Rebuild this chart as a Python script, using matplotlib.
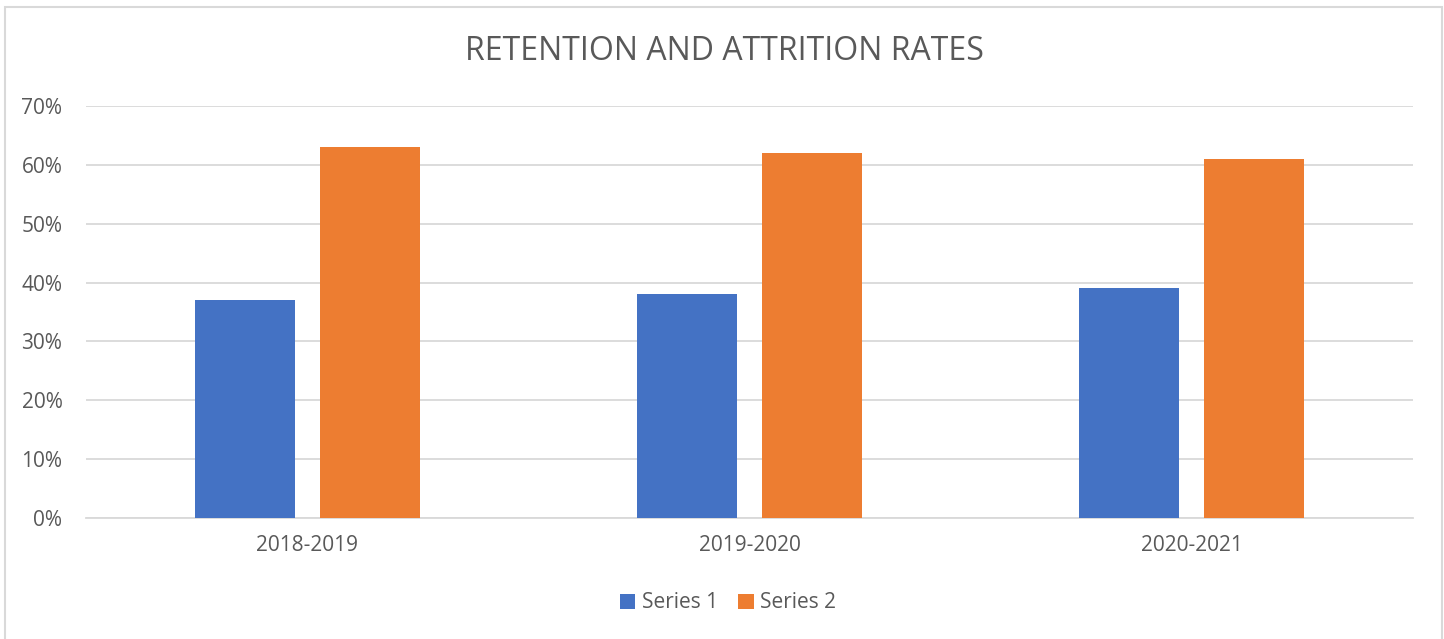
import numpy as np
import matplotlib
matplotlib.use("Agg")
import matplotlib.pyplot as plt
from matplotlib.patches import Rectangle

categories = ["2018-2019", "2019-2020", "2020-2021"]
series1 = [0.37, 0.38, 0.39]
series2 = [0.63, 0.62, 0.61]
yticks = [0, 0.1, 0.2, 0.3, 0.4, 0.5, 0.6, 0.7]

plt.rcParams['font.family'] = ['Open Sans', 'DejaVu Sans']
txt = "#595959"

fig = plt.figure(figsize=(14.44, 6.39), dpi=100)
ax = fig.add_axes([86 / 1444, 1 - 518 / 639, (1413 - 86) / 1444, (518 - 106) / 639])

x = np.arange(len(categories))
w = 0.226
off = 0.1415
ax.bar(x - off, series1, w, color="#4472C4", label="Series 1", zorder=3)
ax.bar(x + off, series2, w, color="#ED7D31", label="Series 2", zorder=3)

ax.set_xlim(-0.5, 2.5)
ax.set_ylim(0, 0.7)
ax.set_yticks(yticks)
ax.set_yticklabels([f"{int(round(v * 100))}%" for v in yticks])
ax.set_xticks(x)
ax.set_xticklabels(categories)
ax.grid(axis="y", color="#D9D9D9", linewidth=1.3, zorder=0)
for s in ["top", "right", "left"]:
    ax.spines[s].set_visible(False)
ax.spines["bottom"].set_color("#D9D9D9")
ax.spines["bottom"].set_linewidth(1.3)
ax.tick_params(axis="both", length=0, labelsize=15, labelcolor=txt)
ax.tick_params(axis="y", pad=17)
ax.tick_params(axis="x", pad=12)

fig.text(0.5015, 1 - 52 / 639, "RETENTION AND ATTRITION RATES", ha="center", va="center",
         fontsize=23, color=txt)

fig.legend(loc="center", bbox_to_anchor=(728 / 1444, 1 - 603 / 639), ncol=2, frameon=False,
           fontsize=15, handlelength=0.75, handleheight=0.75, columnspacing=1.0,
           handletextpad=0.3, labelcolor=txt)

fig.patches.append(Rectangle((5 / 1444, -0.05), (1442 - 5) / 1444, 1 - 7 / 639 + 0.05,
                             transform=fig.transFigure, fill=False, edgecolor="#D9D9D9",
                             linewidth=1.5))

fig.savefig("out.png", dpi=100)
